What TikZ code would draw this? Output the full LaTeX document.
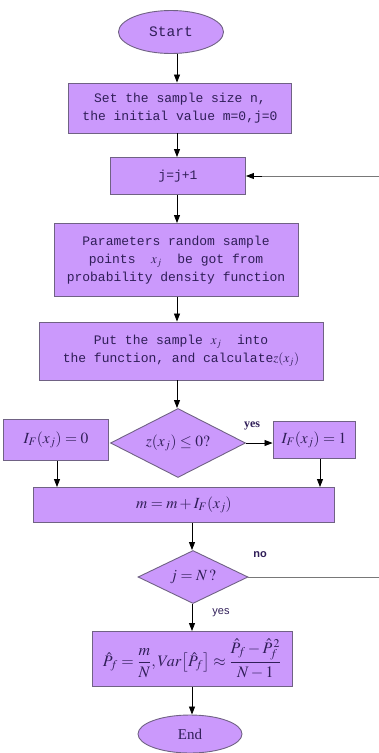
\documentclass[tikz,border=0pt]{standalone}
\usepackage{amsmath}
\usepackage{mathptmx}
\usepackage{fontspec}
\setmainfont{Liberation Serif}
\setmonofont{Liberation Mono}
\setsansfont{Liberation Sans}
\usetikzlibrary{shapes.geometric,arrows.meta,calc}
\definecolor{boxfill}{RGB}{203,153,252}
\definecolor{boxline}{RGB}{112,98,132}
\definecolor{txt}{RGB}{48,30,88}
\definecolor{loopline}{RGB}{120,120,120}
\tikzset{
  base/.style={draw=boxline, fill=boxfill, line width=0.9pt, text=txt, inner sep=0pt, align=center},
  procbox/.style={base, rectangle, font=\fontsize{13}{18}\selectfont\ttfamily},
  mathbox/.style={base, rectangle, font=\fontsize{15.5}{18}\selectfont},
  terminal/.style={base, ellipse, font=\fontsize{14.5}{18}\selectfont\ttfamily},
  decision/.style={base, diamond, font=\fontsize{15.5}{18}\selectfont},
  arr/.style={draw=black, line width=0.8pt, -{Triangle[length=8pt,width=6pt]}},
  loop/.style={draw=loopline, line width=1pt},
  lbl/.style={text=txt, inner sep=0pt}
}
\begin{document}
\begin{tikzpicture}[x=1pt,y=-1pt]
\useasboundingbox (0,0) rectangle (379,753);
\clip (0,0) rectangle (379,753);
\node[terminal, minimum width=105pt, minimum height=43pt] (start) at (171,32) {Start};
\node[procbox, minimum width=223pt, minimum height=50pt] (b1) at (180,108) {Set the sample size n,\\the initial value m=0,j=0};
\node[procbox, minimum width=135pt, minimum height=37pt] (b2) at (178,176) {j=j+1};
\node[procbox, minimum width=244pt, minimum height=73pt] (b3) at (176,260) {Parameters random sample\\points \ $x_j$\ \ be got from\\probability density function};
\node[procbox, minimum width=284pt, minimum height=58pt] (b4) at (181,351) {Put the sample $x_j$\ \ into\\ the function, and calculate$z(x_j)$};
\node[decision, minimum width=135pt, minimum height=69pt, aspect=1.96] (d1) at (178,443) {$z(x_j)\le 0?$};
\node[mathbox, minimum width=105pt, minimum height=41pt] (l0) at (56,440) {$I_F(x_j)=0$};
\node[mathbox, minimum width=82pt, minimum height=37pt] (r1) at (314,440) {$I_F(x_j)=1$};
\node[mathbox, minimum width=301pt, minimum height=35pt] (bm) at (184,505) {$m=m+I_F(x_j)$};
\node[decision, minimum width=110pt, minimum height=53pt, aspect=2.07] (d2) at (193,577) {$j=N\,?$};
\node[mathbox, font=\fontsize{16}{18}\selectfont, minimum width=200pt, minimum height=55pt] (bp) at (192,659) {$\hat P_f=\dfrac{m}{N},Var\!\left[\hat P_f\right]\approx\dfrac{\hat P_f-\hat P_f^{\,2}}{N-1}$};
\node[terminal, font=\fontsize{15}{18}\selectfont, minimum width=104pt, minimum height=38pt] (end) at (190,734) {End};
\node[lbl, font=\fontsize{12}{14}\selectfont\bfseries] (yes1) at (252,426) {yes};
\node[lbl, font=\fontsize{11}{13}\selectfont\sffamily\bfseries] (no) at (260,555) {no};
\node[lbl, font=\fontsize{11}{13}\selectfont\sffamily] (yes2) at (221,613) {yes};
\coordinate (ca) at (177,0);
\coordinate (cb) at (192,0);
\coordinate (cl) at (57,0);
\coordinate (cr) at (320,0);
\coordinate (far) at (390,0);
\draw[arr] (start.south -| ca) -- (b1.north -| ca);
\draw[arr] (b1.south -| ca) -- (b2.north -| ca);
\draw[arr] (b2.south -| ca) -- (b3.north -| ca);
\draw[arr] (b3.south -| ca) -- (b4.north -| ca);
\draw[arr] (b4.south -| ca) -- (d1.north -| ca);
\draw[arr] (d1.east) -- (r1.west |- d1.east);
\draw[arr] (l0.south -| cl) -- (bm.north -| cl);
\draw[arr] (r1.south -| cr) -- (bm.north -| cr);
\draw[arr] (bm.south -| cb) -- (d2.north -| cb);
\draw[arr] (d2.south -| cb) -- (bp.north -| cb);
\draw[arr] (bp.south -| cb) -- (end.north -| cb);
\draw[loop] (d2.east) -- (d2.east -| far) -- (b2.east -| far) -- (b2.east -| 260,0);
\draw[arr] (b2.east -| 262,0) -- (b2.east);
\end{tikzpicture}
\end{document}
